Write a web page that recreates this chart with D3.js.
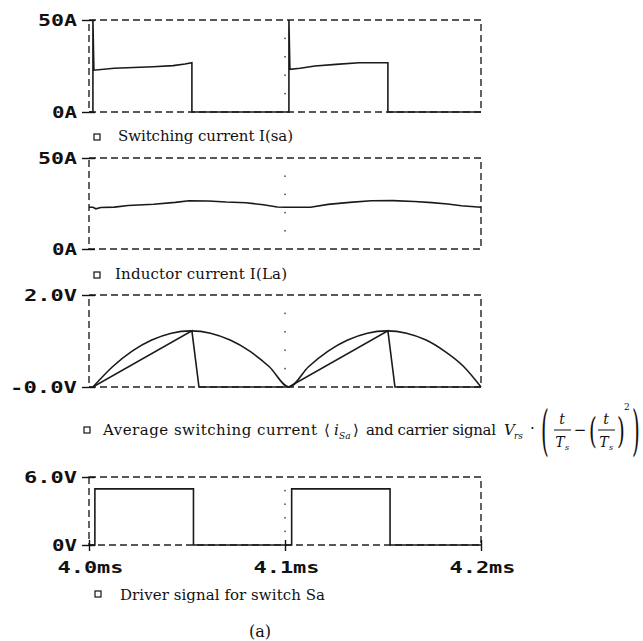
<!DOCTYPE html>
<html>
<head>
<meta charset="utf-8">
<script src="https://cdn.jsdelivr.net/npm/d3@7"></script>
<style>
  html, body { margin: 0; padding: 0; background: #fff; }
  svg { display: block; }
  .mono { font-family: "DejaVu Sans Mono", monospace; font-weight: bold; font-size: 16px; fill: #111; }
  .cap { font-family: "DejaVu Serif", "DejaVu Sans", serif; font-size: 15px; fill: #111; }
  .it { font-style: italic; }
</style>
</head>
<body>
<svg id="chart" width="643" height="641"></svg>
<script>
// ---- time axis (ms) ----
const timeTicks = [4.0, 4.1, 4.2];
const timeTickLabels = ["4.0ms", "4.1ms", "4.2ms"];

// ---- panel 1: switching current I(sa), A ----
const currentTicks = [0, 50];
const currentTickLabels = ["0A", "50A"];
const switchT = [4.000, 4.002, 4.002, 4.0025, 4.0128, 4.0327, 4.0429, 4.0490, 4.0525, 4.0525,
                 4.1020, 4.1020, 4.1025, 4.1077, 4.1153, 4.1260, 4.1378, 4.1525, 4.1525, 4.2000];
const switchI = [0, 0, 50, 22.7, 23.8, 24.6, 25.2, 26.1, 26.8, 0,
                 0, 50, 23.2, 23.8, 25.0, 25.9, 26.8, 26.8, 0, 0];

// ---- panel 2: inductor current I(La), A ----
const inductorT = [4.000, 4.002, 4.0035, 4.006, 4.013, 4.020, 4.033, 4.044, 4.051, 4.061, 4.070, 4.080,
                   4.089, 4.096, 4.100, 4.113, 4.122, 4.133, 4.144, 4.155, 4.166, 4.175, 4.183, 4.190, 4.200];
const inductorI = [22.9, 22.9, 22.1, 22.8, 23.0, 23.9, 24.6, 25.6, 26.5, 26.4, 25.8, 25.4,
                   24.3, 23.1, 22.9, 22.9, 24.5, 25.6, 26.5, 26.6, 26.1, 25.5, 24.7, 23.8, 22.9];

// ---- panel 3: average switching current and carrier, V ----
const voltTicks = [0, 2.0];
const voltTickLabels = ["-0.0V", "2.0V"];
const carrierT = [4.002, 4.012, 4.022, 4.032, 4.042, 4.052, 4.062, 4.072, 4.082, 4.092, 4.102,
                  4.112, 4.122, 4.132, 4.142, 4.152, 4.162, 4.172, 4.181, 4.191, 4.200];
const carrierV = [0, 0.44, 0.78, 1.02, 1.17, 1.22, 1.17, 1.02, 0.78, 0.44, 0,
                  0.44, 0.78, 1.02, 1.17, 1.22, 1.17, 1.02, 0.79, 0.45, 0];
const avgT = [4.000, 4.002, 4.0525, 4.0561, 4.102, 4.1525, 4.1561, 4.200];
const avgV = [0, 0, 1.22, 0, 0, 1.22, 0, 0];

// ---- panel 4: driver signal for switch Sa, V ----
const driveTicks = [0, 6.0];
const driveTickLabels = ["0V", "6.0V"];
const driverT = [4.000, 4.003, 4.0533, 4.1034, 4.1536, 4.200];
const driverV = [0, 4.95, 0, 4.95, 0, 0];

// ---- captions ----
const captions = [
  "Switching current I(sa)",
  "Inductor current I(La)",
  "Average switching current",
  "Driver signal for switch Sa"
];

const svg = d3.select("#chart");
const x = d3.scaleLinear().domain([4.0, 4.2]).range([89, 481]);
const ink = "#1a1a1a";

const panels = [
  { top: 20,  bottom: 112, domain: [0, 50], ticks: currentTicks, labels: currentTickLabels,
    series: [{ t: switchT, v: switchI, curve: d3.curveLinear }] },
  { top: 158, bottom: 249, domain: [0, 50], ticks: currentTicks, labels: currentTickLabels,
    series: [{ t: inductorT, v: inductorI, curve: d3.curveLinear }] },
  { top: 295, bottom: 387, domain: [0, 2], ticks: voltTicks, labels: voltTickLabels,
    series: [{ t: carrierT, v: carrierV, curve: d3.curveMonotoneX },
             { t: avgT, v: avgV, curve: d3.curveLinear }] },
  { top: 477, bottom: 545, domain: [0, 6], ticks: driveTicks, labels: driveTickLabels,
    series: [{ t: driverT, v: driverV, curve: d3.curveStepAfter }] }
];

// wide, blocky look for the axis lettering: each character gets a fixed pitch
const pitch = (s, w) => s.length * w - 3;

panels.forEach((p, pi) => {
  const y = d3.scaleLinear().domain(p.domain).range([p.bottom, p.top]);
  const g = svg.append("g");

  // dashed plot frame
  g.append("rect")
    .attr("x", x(4.0)).attr("y", p.top)
    .attr("width", x(4.2) - x(4.0)).attr("height", p.bottom - p.top)
    .attr("fill", "none").attr("stroke", "#222").attr("stroke-width", 1.4)
    .attr("stroke-dasharray", "7,4");

  // sparse dotted grid line at the middle time tick
  const dotVals = d3.range(1, 5).map(i => p.domain[0] + (p.domain[1] - p.domain[0]) * i / 5);
  g.selectAll("rect.dot").data(dotVals).join("rect")
    .attr("class", "dot")
    .attr("x", x(4.1) - 0.75).attr("y", d => y(d) - 0.75)
    .attr("width", 1.5).attr("height", 1.5).attr("fill", "#444");

  // y axis
  const ay = d3.axisLeft(y).tickValues(p.ticks)
    .tickFormat((d, i) => p.labels[i]).tickSize(7).tickPadding(0);
  const gy = g.append("g").attr("transform", `translate(${x(4.0)},0)`).call(ay);
  gy.select(".domain").remove();
  gy.selectAll(".tick line").attr("x1", 6).attr("x2", -7)
    .attr("stroke", "#111").attr("stroke-width", 1.4);
  gy.selectAll(".tick text").attr("class", "mono")
    .attr("x", -12).attr("dy", "0.37em")
    .attr("textLength", (d, i) => pitch(p.labels[i], 14))
    .attr("lengthAdjust", "spacingAndGlyphs")
    .attr("font-family", null).attr("font-size", null).attr("fill", null);

  // signals
  p.series.forEach(s => {
    const pts = s.t.map((t, i) => [t, s.v[i]]);
    const line = d3.line().x(d => x(d[0])).y(d => y(d[1])).curve(s.curve);
    g.append("path").datum(pts)
      .attr("d", line)
      .attr("fill", "none").attr("stroke", ink).attr("stroke-width", 1.6)
      .attr("stroke-linejoin", "miter");
  });

  // time axis on the lowest panel
  if (pi === panels.length - 1) {
    const ax = d3.axisBottom(x).tickValues(timeTicks)
      .tickFormat((d, i) => timeTickLabels[i]).tickSize(6).tickPadding(0);
    const gx = g.append("g").attr("transform", `translate(0,${p.bottom})`).call(ax);
    gx.select(".domain").remove();
    gx.selectAll(".tick line").attr("y1", -5).attr("y2", 6)
      .attr("stroke", "#111").attr("stroke-width", 1.4);
    gx.selectAll(".tick text").attr("class", "mono")
      .attr("y", 28).attr("dy", 0).attr("dx", 1)
      .attr("textLength", (d, i) => pitch(timeTickLabels[i], 13.8))
      .attr("lengthAdjust", "spacingAndGlyphs")
      .attr("font-family", null).attr("font-size", null).attr("fill", null);
  }
});

// ---- legend captions ----
function legendSquare(cx, cy) {
  svg.append("rect").attr("x", cx - 3).attr("y", cy - 3).attr("width", 6).attr("height", 6)
    .attr("fill", "none").attr("stroke", "#111").attr("stroke-width", 1.2);
}
function caption(txt, x0, baseline, width) {
  return svg.append("text").attr("class", "cap")
    .attr("x", x0).attr("y", baseline)
    .attr("textLength", width).attr("lengthAdjust", "spacing")
    .text(txt);
}

legendSquare(97, 137);
caption(captions[0], 118, 141, 175);

legendSquare(97, 275);
caption(captions[1], 115, 279, 172);

legendSquare(87, 430);
caption(captions[2], 103, 435, 214);

legendSquare(98, 594);
caption(captions[3], 120, 600, 205);

// ---- average-current symbol and carrier formula ----
const f = svg.append("g");
function sym(txt, x0, base, size, opts = {}) {
  return f.append("text").attr("class", "cap" + (opts.it ? " it" : ""))
    .attr("x", x0).attr("y", base).style("font-size", size + "px")
    .attr("text-anchor", opts.anchor || "start").text(txt);
}
// stretch a delimiter glyph so that it spans [top, bottom]
function delimiter(txt, x0, top, bottom) {
  const t = f.append("text").attr("class", "cap").style("font-size", "20px")
    .attr("x", 0).attr("y", 0).text(txt);
  const b = t.node().getBBox();
  const s = (bottom - top) / b.height;
  t.attr("transform", `translate(${x0 - b.x},${top - b.y * s}) scale(1,${s})`);
  return t;
}

sym("\u27E8", 324, 435, 15);
sym("i", 334, 435, 15, { it: true });
sym("Sa", 339, 439, 9, { it: true });
sym("\u27E9", 353, 435, 15);
caption("and carrier signal", 366, 435, 130);

sym("V", 504, 435, 15, { it: true });
sym("rs", 514, 439, 9, { it: true });
sym("\u00B7", 530, 433, 15);
delimiter("(", 541, 398, 462);

// first fraction t / T_s
sym("t", 562, 424, 14, { it: true, anchor: "middle" });
f.append("line").attr("x1", 554).attr("x2", 571).attr("y1", 430).attr("y2", 430)
  .attr("stroke", "#111").attr("stroke-width", 1);
sym("T", 560, 447, 14, { it: true, anchor: "middle" });
sym("s", 565, 450, 8, { it: true });

sym("\u2212", 580, 435, 15, { anchor: "middle" });
delimiter("(", 589, 410, 452);

// second fraction t / T_s
sym("t", 606, 424, 14, { it: true, anchor: "middle" });
f.append("line").attr("x1", 598).attr("x2", 615).attr("y1", 430).attr("y2", 430)
  .attr("stroke", "#111").attr("stroke-width", 1);
sym("T", 604, 447, 14, { it: true, anchor: "middle" });
sym("s", 609, 450, 8, { it: true });

delimiter(")", 617, 410, 452);
sym("2", 624, 410, 9);
delimiter(")", 632, 398, 462);

// ---- figure label ----
svg.append("text").attr("class", "cap").style("font-size", "16px")
  .attr("x", 260).attr("y", 637).attr("text-anchor", "middle").text("(a)");
</script>
</body>
</html>
